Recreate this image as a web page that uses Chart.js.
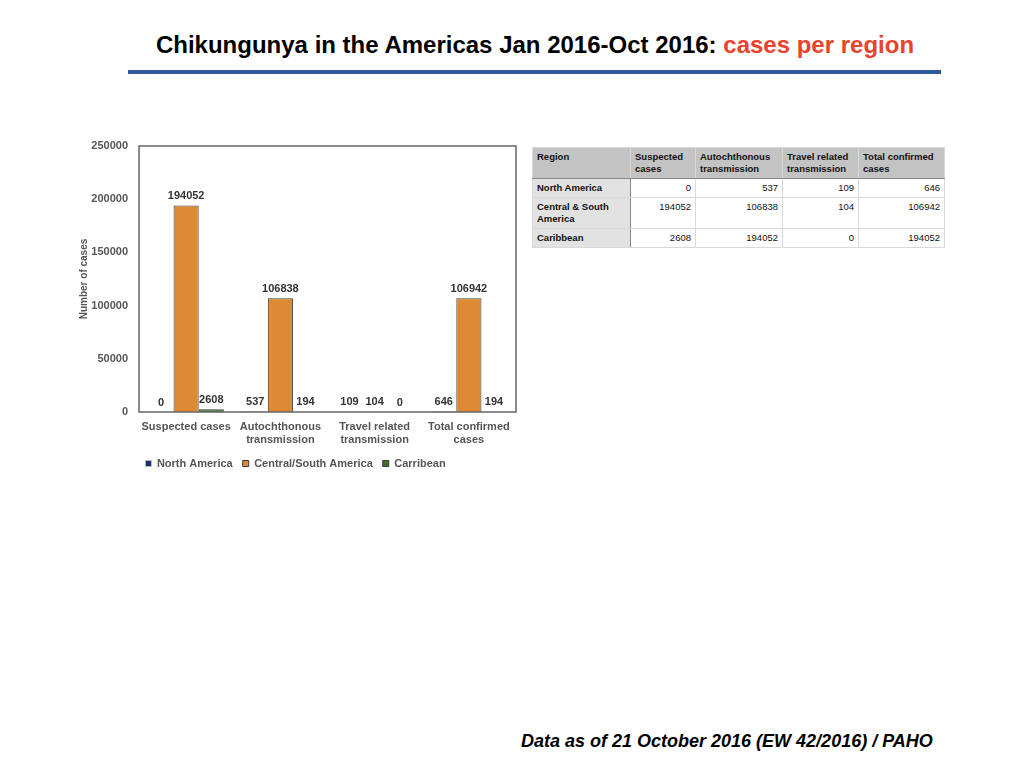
<!DOCTYPE html>
<html>
<head>
<meta charset="utf-8">
<script src="https://cdn.jsdelivr.net/npm/chart.js@4"></script>
<style>
  html,body{margin:0;padding:0;background:#fff;width:1024px;height:768px;overflow:hidden;font-family:"Liberation Sans",Arial,sans-serif;}
  #title{position:absolute;left:0;width:1070px;top:31px;text-align:center;font-weight:bold;font-size:24px;color:#000;white-space:nowrap;}
  #title span{color:#e8432c;}
  #rule{position:absolute;left:128px;top:70px;width:813px;height:4px;background:#2e5a9a;}
  #chartBox{position:absolute;left:70px;top:130px;width:455px;height:349px;}
  #tbl{position:absolute;left:532px;top:147px;border-collapse:collapse;font-size:9.5px;font-weight:bold;color:#111;}
  #tbl td,#tbl th{border:1px solid #d9d9d9;padding:3px 4px;vertical-align:top;line-height:12px;}
  #tbl th{background:#c3c3c3;text-align:left;border-bottom:1px solid #8a8a8a;}
  #tbl td{text-align:right;font-weight:normal;background:#fff;}
  #tbl td.r{text-align:left;background:#e2e2e2;font-weight:bold;border-right:1px solid #8a8a8a;}
  #foot{position:absolute;left:521px;top:731px;font-weight:bold;font-style:italic;font-size:18px;color:#000;white-space:nowrap;}
</style>
</head>
<body>
<div id="title">Chikungunya in the Americas Jan 2016-Oct 2016: <span>cases per region</span></div>
<div id="rule"></div>
<div id="chartBox"><canvas id="c"></canvas></div>
<table id="tbl"></table>
<div id="foot">Data as of 21 October 2016 (EW 42/2016) / PAHO</div>
<script>
const categories = [["Suspected cases"], ["Autochthonous","transmission"], ["Travel related","transmission"], ["Total confirmed","cases"]];
const seriesNames = ["North America", "Central/South America", "Carribean"];
const northAmerica = [0, 537, 109, 646];
const centralSouthAmerica = [194052, 106838, 104, 106942];
const caribbean = [2608, 194, 0, 194];
const yTicks = [0, 50000, 100000, 150000, 200000, 250000];

const tableHeader = ["Region", "Suspected cases", "Autochthonous transmission", "Travel related transmission", "Total confirmed cases"];
const tableRegions = ["North America", "Central & South America", "Caribbean"];
const tableNorth = [0, 537, 109, 646];
const tableCentral = [194052, 106838, 104, 106942];
const tableCaribbean = [2608, 194052, 0, 194052];

// table
(function(){
  const t = document.getElementById('tbl');
  const widths = [89, 56, 78, 67, 77];
  let h = '<tr>' + tableHeader.map((x,i)=>'<th style="width:'+widths[i]+'px">'+x+'</th>').join('') + '</tr>';
  const rows = [tableNorth, tableCentral, tableCaribbean];
  rows.forEach((r,i)=>{
    h += '<tr><td class="r">'+tableRegions[i]+'</td>' + r.map(v=>'<td>'+v+'</td>').join('') + '</tr>';
  });
  t.innerHTML = h;
})();

const fills = ['#1b2a6e', '#de8a33', '#3f6b2b'];
const gray = '#555';
const FONT = '"Liberation Sans", Arial, sans-serif';

const labelPlugin = {
  id: 'vals',
  afterDatasetsDraw(chart){
    const ctx = chart.ctx;
    ctx.save();
    ctx.font = 'bold 11px ' + FONT;
    ctx.fillStyle = '#333';
    ctx.textAlign = 'center';
    ctx.textBaseline = 'bottom';
    chart.data.datasets.forEach((ds, di) => {
      const meta = chart.getDatasetMeta(di);
      meta.data.forEach((bar, i) => {
        ctx.fillText(String(ds.data[i]), bar.x, bar.y - 4);
      });
    });
    ctx.restore();
  }
};
const framePlugin = {
  id: 'frame',
  afterDraw(chart){
    const a = chart.chartArea, ctx = chart.ctx;
    ctx.save();
    ctx.strokeStyle = '#666';
    ctx.lineWidth = 1.5;
    ctx.strokeRect(a.left, a.top, a.right - a.left, a.bottom - a.top);
    ctx.restore();
  }
};

function border(ctx){
  const v = ctx.raw;
  if (v < 1000) return '#bbbbbb';
  return '#3a3a3a';
}

new Chart(document.getElementById('c'), {
  type: 'bar',
  data: {
    labels: categories,
    datasets: [
      {label: seriesNames[0], data: northAmerica, backgroundColor: fills[0], borderColor: border, borderWidth: 1},
      {label: seriesNames[1], data: centralSouthAmerica, backgroundColor: fills[1], borderColor: border, borderWidth: 1},
      {label: seriesNames[2], data: caribbean, backgroundColor: fills[2], borderColor: border, borderWidth: 1}
    ]
  },
  options: {
    responsive: true,
    maintainAspectRatio: false,
    animation: false,
    layout: {padding: {left: 5, right: 9, top: 16, bottom: 0}},
    datasets: {bar: {categoryPercentage: 0.8, barPercentage: 1.0}},
    plugins: {
      legend: {
        position: 'bottom',
        align: 'center',
        labels: {boxWidth: 6, boxHeight: 6, padding: 10, color: gray, font: {family: FONT, size: 11, weight: 'bold'}}
      },
      tooltip: {enabled: false}
    },
    scales: {
      x: {
        grid: {display: false},
        border: {display: false},
        afterFit(scale){ scale.height = 36; },
        ticks: {color: gray, autoSkip: false, font: {family: FONT, size: 11, weight: 'bold', lineHeight: 1.22}, padding: 0, maxRotation: 0}
      },
      y: {
        min: 0, max: 250000,
        afterBuildTicks(axis){ axis.ticks = yTicks.map(v => ({value: v})); },
        afterFit(scale){ scale.width = 64; },
        grid: {display: false},
        border: {display: false},
        title: {display: true, text: 'Number of cases', color: gray, font: {family: FONT, size: 10, weight: 'bold'}, padding: 3},
        ticks: {color: gray, padding: 3, callback: v => String(v), font: {family: FONT, size: 11, weight: 'bold'}}
      }
    }
  },
  plugins: [labelPlugin, framePlugin]
});
</script>
</body>
</html>
